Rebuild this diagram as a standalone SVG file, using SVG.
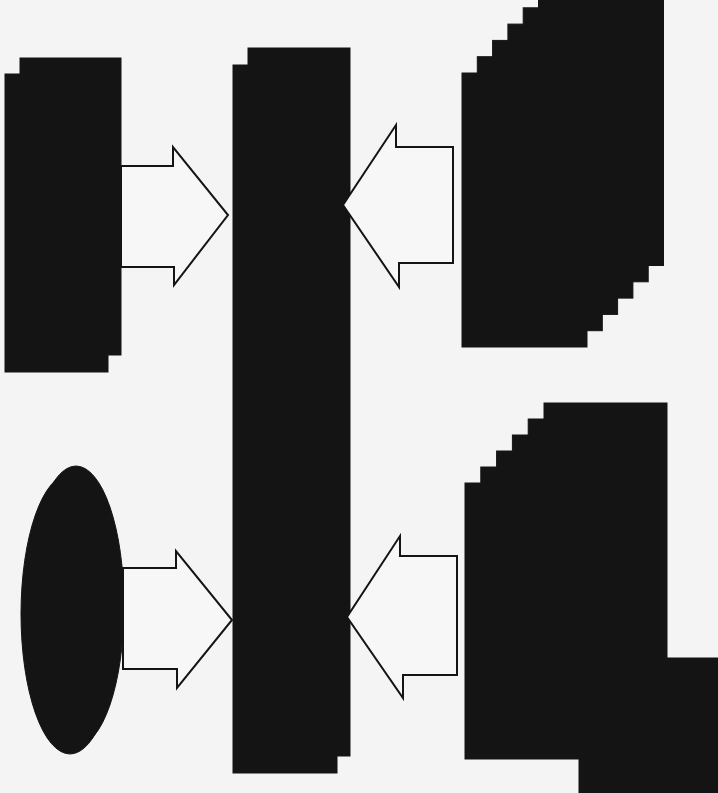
<svg xmlns="http://www.w3.org/2000/svg" width="718" height="793" viewBox="0 0 718 793">
<style>
.blk{fill:#141414;stroke:#141414;stroke-width:1}
.arr{fill:#f7f7f7;stroke:#141414;stroke-width:2;stroke-linejoin:miter}
</style>
<rect x="0" y="0" width="718" height="793" fill="#f4f4f4"/>
<g id="node-top-left">
<rect class="blk" x="20" y="58" width="101" height="297"/>
<rect class="blk" x="5" y="74" width="103" height="298"/>
</g>
<g id="node-center">
<rect class="blk" x="248" y="48" width="102" height="708"/>
<rect class="blk" x="233" y="65" width="104" height="708"/>
</g>
<g id="node-top-right">
<rect class="blk" x="538.5" y="-8.5" width="125" height="274"/>
<rect class="blk" x="523.2" y="7.8" width="125" height="274"/>
<rect class="blk" x="507.9" y="24.1" width="125" height="274"/>
<rect class="blk" x="492.6" y="40.4" width="125" height="274"/>
<rect class="blk" x="477.3" y="56.7" width="125" height="274"/>
<rect class="blk" x="462" y="73" width="125" height="274"/>
</g>
<g id="node-bottom-left">
<ellipse class="blk" cx="76" cy="606" rx="48" ry="140"/>
<ellipse class="blk" cx="70" cy="614" rx="49" ry="140"/>
</g>
<g id="node-bottom-right">
<rect class="blk" x="544" y="403" width="123" height="276"/>
<rect class="blk" x="528.2" y="419" width="123" height="276"/>
<rect class="blk" x="512.4" y="435" width="123" height="276"/>
<rect class="blk" x="496.6" y="451" width="123" height="276"/>
<rect class="blk" x="480.8" y="467" width="123" height="276"/>
<rect class="blk" x="465" y="483" width="123" height="276"/>
<rect class="blk" x="579" y="658" width="145" height="140"/>
</g>
<g id="connectors">
<polygon class="arr" points="121,166 173,166 173,147 228,215 174,285 174,267 121,267"/>
<polygon class="arr" points="453,147 396,147 396,125 343,205 399,287 399,263 453,263"/>
<polygon class="arr" points="123,568 176,568 176,551 232,620 177,688 177,669 123,669"/>
<polygon class="arr" points="457,556 400,556 400,536 347,617 403,698 403,675 457,675"/>
</g>
</svg>
